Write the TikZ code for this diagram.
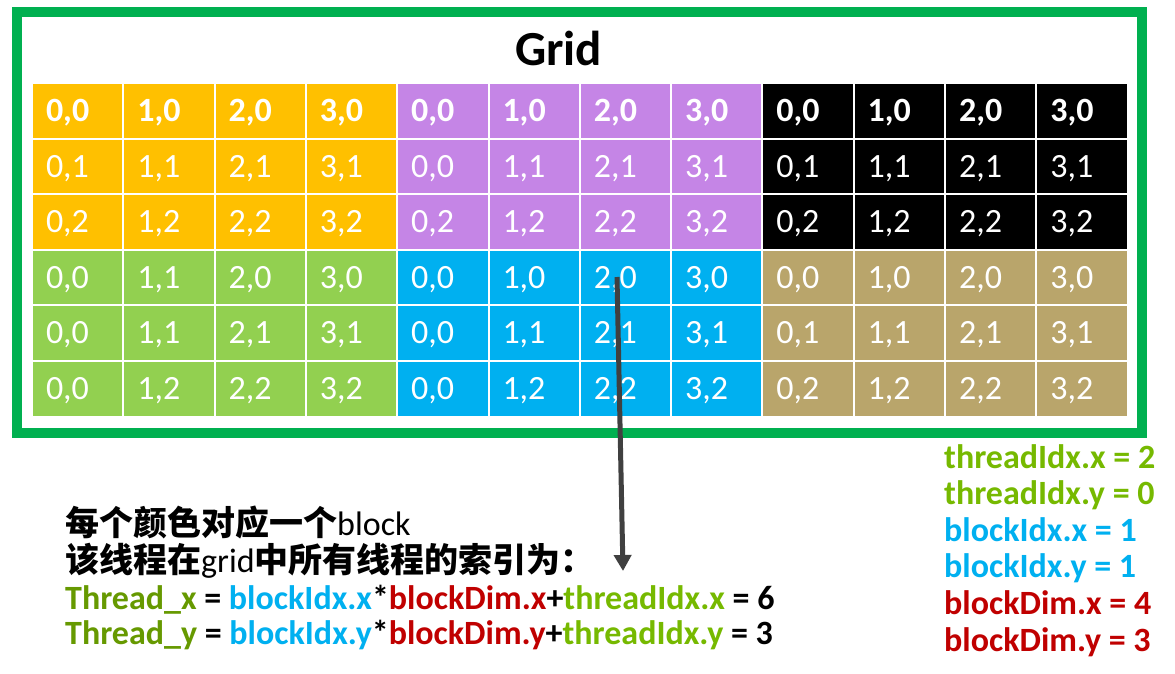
\documentclass[tikz,border=0pt]{standalone}
\usepackage{fontspec}
\setmainfont{Carlito}
\newfontfamily\cjk{Noto Sans CJK SC}
\usetikzlibrary{arrows.meta}
\definecolor{b00}{HTML}{FFC000}
\definecolor{b10}{HTML}{C585E6}
\definecolor{b20}{HTML}{000000}
\definecolor{b01}{HTML}{92D050}
\definecolor{b11}{HTML}{00B0F0}
\definecolor{b21}{HTML}{B9A56B}
\definecolor{gridgreen}{HTML}{00B050}
\definecolor{tdark}{HTML}{669900}
\definecolor{tlight}{HTML}{76B900}
\definecolor{tblue}{HTML}{00B0F0}
\definecolor{tred}{HTML}{C00000}
\definecolor{arrowgray}{HTML}{404040}
\newcommand\fs[1]{\fontsize{#1}{#1}\selectfont}
\newcommand\cellrow[3]{%
  \foreach \lab [count=\c from 0] in {#3} {%
    \pgfmathtruncatemacro\bx{\c/4}%
    \pgfmathtruncatemacro\by{#1/3}%
    \node[cell,fill=b\bx\by,font=#2] (c-#1-\c) at ({33+91.3*\c+44.65},{84+55.6*#1+26.8}) {\lab};
  }}
\begin{document}
\begin{tikzpicture}[x=1pt,y=-1pt,
  cell/.style={draw=none,text=white,minimum height=53.6pt,inner xsep=13pt,inner ysep=0pt,
    text width=63.3pt,align=left,text height=21.5pt,text depth=0pt},
  border/.style={draw=gridgreen,line width=10pt,line join=miter},
  info/.style={anchor=base west,inner sep=0pt,font=\fs{34}\bfseries},
  note/.style={anchor=base west,inner sep=0pt,font=\fs{34}},
  arrowline/.style={draw=arrowgray,line width=5pt,-{Triangle[length=16pt,width=17pt]}}]
\useasboundingbox (0,0) rectangle (1175,673);
\fill[white] (0,0) rectangle (1175,673);
\draw[border] (16.5,12) rectangle (1142,433);
\node[anchor=base,inner sep=0pt,font=\fs{49}\bfseries] (title) at (558.5,65) {Grid};
\cellrow{0}{\fs{34}\bfseries}{{0,0},{1,0},{2,0},{3,0},{0,0},{1,0},{2,0},{3,0},{0,0},{1,0},{2,0},{3,0}}
\cellrow{1}{\fs{34}}{{0,1},{1,1},{2,1},{3,1},{0,0},{1,1},{2,1},{3,1},{0,1},{1,1},{2,1},{3,1}}
\cellrow{2}{\fs{34}}{{0,2},{1,2},{2,2},{3,2},{0,2},{1,2},{2,2},{3,2},{0,2},{1,2},{2,2},{3,2}}
\cellrow{3}{\fs{34}}{{0,0},{1,1},{2,0},{3,0},{0,0},{1,0},{2,0},{3,0},{0,0},{1,0},{2,0},{3,0}}
\cellrow{4}{\fs{34}}{{0,0},{1,1},{2,1},{3,1},{0,0},{1,1},{2,1},{3,1},{0,1},{1,1},{2,1},{3,1}}
\cellrow{5}{\fs{34}}{{0,0},{1,2},{2,2},{3,2},{0,0},{1,2},{2,2},{3,2},{0,2},{1,2},{2,2},{3,2}}
\coordinate (as) at (617,277);
\coordinate (ae) at (623,571);
\draw[arrowline] (as) -- (ae);
\node[note] (n1) at (65,535) {{\cjk\bfseries 每个颜色对应一个}block};
\node[note] (n2) at (65,572) {{\cjk\bfseries 该线程在}grid{\cjk\bfseries 中所有线程的索引为：}};
\node[info] (f1) at (65,609) {\textcolor{tdark}{Thread\_x} = \textcolor{tblue}{blockIdx.x}*\textcolor{tred}{blockDim.x}+\textcolor{tlight}{threadIdx.x} = 6};
\node[info] (f2) at (65,644) {\textcolor{tdark}{Thread\_y} = \textcolor{tblue}{blockIdx.y}*\textcolor{tred}{blockDim.y}+\textcolor{tlight}{threadIdx.y} = 3};
\node[info,text=tlight] (r1) at (944,468) {threadIdx.x = 2};
\node[info,text=tlight] (r2) at (944,504.6) {threadIdx.y = 0};
\node[info,text=tblue] (r3) at (944,541.2) {blockIdx.x = 1};
\node[info,text=tblue] (r4) at (944,577.8) {blockIdx.y = 1};
\node[info,text=tred] (r5) at (944,614.4) {blockDim.x = 4};
\node[info,text=tred] (r6) at (944,651) {blockDim.y = 3};
\end{tikzpicture}
\end{document}
